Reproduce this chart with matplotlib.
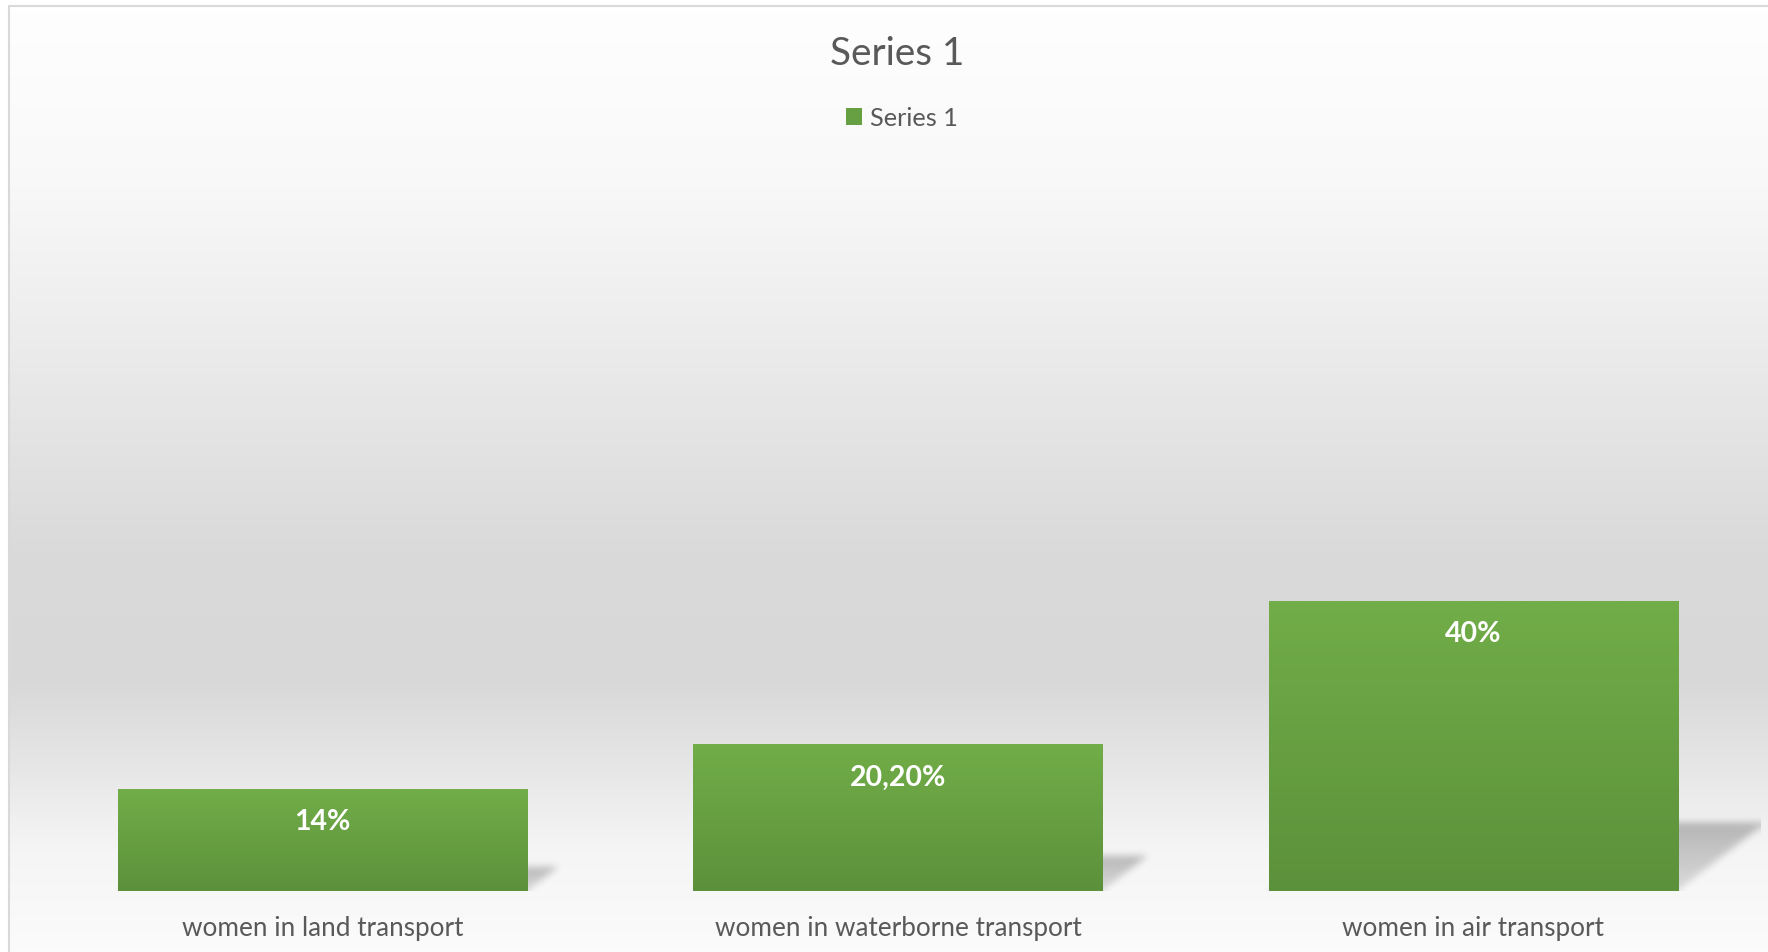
import numpy as np
import matplotlib.pyplot as plt
from matplotlib.patches import Patch
from matplotlib.colors import to_rgb

# data
categories = ["women in land transport", "women in waterborne transport", "women in air transport"]
values = [0.14, 0.202, 0.40]
value_labels = ["14%", "20,20%", "40%"]
series_name = "Series 1"

W, H = 1768, 953
fig = plt.figure(figsize=(W / 100, H / 100), dpi=100)
fig.patch.set_facecolor("white")
plt.rcParams['font.family'] = ['Lato', 'DejaVu Sans']
txt_col = "#595959"

# chart background: vertical grey gradient
bg = fig.add_axes([0, 0, 1, 1], zorder=0)
bg.set_xlim(0, W)
bg.set_ylim(H, 0)
bg.axis("off")
stops_y = [6, 180, 310, 430, 550, 680, 770, 850, 953]
stops_v = [0.997, 0.975, 0.935, 0.895, 0.855, 0.847, 0.905, 0.96, 0.985]
yy = np.arange(6, H)
shade = np.interp(yy, stops_y, stops_v)
grad = np.repeat(shade[:, None], 2, axis=1)
bg.imshow(np.dstack([grad] * 3), extent=(8, W, H, 6), aspect="auto", interpolation="bilinear")
bg.plot([8.5, 8.5, W], [H, 6.5, 6.5], color="#d9d9d9", lw=1.5)

# plot area
ax = fig.add_axes([35 / W, (H - 892) / H, 1726 / W, 725 / H], zorder=2)
ax.set_facecolor("none")
ax.set_xlim(-0.5, 2.5)
ax.set_ylim(0, 1.0)
for s in ax.spines.values():
    s.set_visible(False)
ax.set_yticks([])
x = np.arange(len(categories))
ax.set_xticks(x, categories, fontsize=18.8, color=txt_col)
ax.tick_params(axis="x", length=0, pad=17)

bw = 0.711

# soft shadows cast to the right of each bar
ny, nx = 360, 1726
gx = np.linspace(-0.5, 2.5, nx)
gy = np.linspace(0, 0.5, ny)
GX, GY = np.meshgrid(gx, gy)
alpha = np.zeros_like(GX)
for xi, v in zip(x, values):
    dx = 0.385 * v
    dy = 0.235 * v
    t = GY / dy
    inside = (GY <= dy) & (GX >= xi - bw / 2 + t * dx) & (GX <= xi + bw / 2 + t * dx)
    alpha = np.maximum(alpha, inside * (0.12 + 0.13 * np.clip(t, 0, 1)))

def box_blur(a, r, axis):
    c = np.cumsum(np.pad(a, [(r + 1, r) if i == axis else (0, 0) for i in range(2)], mode="edge"), axis=axis)
    if axis == 0:
        return (c[2 * r + 1:] - c[:-2 * r - 1]) / (2 * r + 1)
    return (c[:, 2 * r + 1:] - c[:, :-2 * r - 1]) / (2 * r + 1)

for _ in range(3):
    alpha = box_blur(alpha, 3, 0)
    alpha = box_blur(alpha, 3, 1)
sh = np.zeros((ny, nx, 4))
sh[..., 3] = alpha
ax.imshow(sh, extent=(-0.5, 2.5, 0, 0.5), origin="lower", aspect="auto", zorder=1, interpolation="bilinear")

# gradient-filled bars
top_c = np.array(to_rgb("#71ad48"))
bot_c = np.array(to_rgb("#5c913b"))
ramp = np.linspace(0, 1, 100)[:, None]
bar_img = (bot_c * (1 - ramp) + top_c * ramp)[:, None, :]
for xi, v, lab in zip(x, values, value_labels):
    ax.imshow(bar_img, extent=(xi - bw / 2, xi + bw / 2, 0, v), origin="lower",
              aspect="auto", zorder=3, interpolation="bilinear")
    ax.annotate(lab, (xi, v), xytext=(0, -32), textcoords="offset pixels",
                ha="center", va="center", color="white", fontsize=20.5, fontweight="bold", zorder=4)
ax.set_xlim(-0.5, 2.5)
ax.set_ylim(0, 1.0)

fig.text(897 / W, 1 - 54 / H, series_name, ha="center", va="center", fontsize=27.8, color=txt_col)
fig.legend(handles=[Patch(facecolor="#67a043", edgecolor="none", label=series_name)],
           loc="center", bbox_to_anchor=(902 / W, 1 - 119 / H), frameon=False,
           fontsize=18.3, labelcolor=txt_col, handlelength=0.62, handleheight=0.62, handletextpad=0.3)

fig.savefig("out.png", dpi=100)
